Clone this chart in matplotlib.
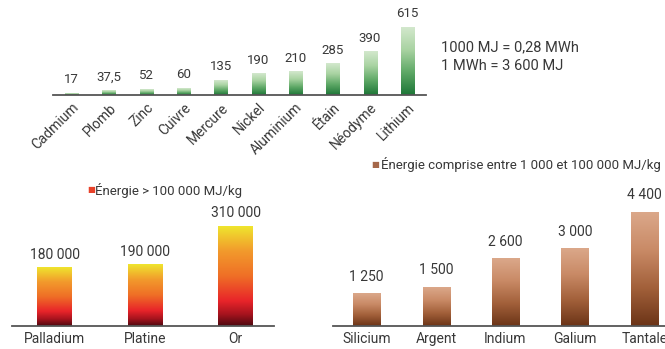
import numpy as np
import matplotlib
matplotlib.use("Agg")
import matplotlib.pyplot as plt
from matplotlib.colors import LinearSegmentedColormap

plt.rcParams['font.family'] = ['Roboto', 'DejaVu Sans']

# énergie nécessaire par kg de métal (MJ/kg)
metaux_bas = ["Cadmium", "Plomb", "Zinc", "Cuivre", "Mercure", "Nickel",
              "Aluminium", "Étain", "Néodyme", "Lithium"]
energie_bas = [17, 37.5, 52, 60, 135, 190, 210, 285, 390, 615]
etiq_bas = ["17", "37,5", "52", "60", "135", "190", "210", "285", "390", "615"]

metaux_haut = ["Palladium", "Platine", "Or"]
energie_haut = [180000, 190000, 310000]
etiq_haut = ["180 000", "190 000", "310 000"]

metaux_moy = ["Silicium", "Argent", "Indium", "Galium", "Tantale"]
energie_moy = [1250, 1500, 2600, 3000, 4400]
etiq_moy = ["1 250", "1 500", "2 600", "3 000", "4 400"]

vert = LinearSegmentedColormap.from_list("vert", ["#1d7637", "#5ea866", "#a9d3a2", "#d3e8cd"])
feu = LinearSegmentedColormap.from_list(
    "feu", [(0, "#4e0810"), (0.12, "#a8141e"), (0.25, "#e8242a"), (0.5, "#ef6f26"),
            (0.75, "#f29a2c"), (1, "#efe52e")])
brun = LinearSegmentedColormap.from_list("brun", ["#6b3417", "#a2603a", "#c98a66", "#dba88a"])

TXT = "#383838"
W, H = 665, 349
fig = plt.figure(figsize=(W / 100, H / 100), dpi=100)


def axes_px(x0, y_base, w, h):
    return fig.add_axes([x0 / W, (H - y_base) / H, w / W, h / H])


def barres(ax, valeurs, etiquettes, noms, cmap, largeur, ymax, xlim, fs_val, fs_nom,
           decal, rot=0):
    grad = np.linspace(0, 1, 256).reshape(-1, 1)
    for i, v in enumerate(valeurs):
        ax.imshow(grad, cmap=cmap, origin="lower", aspect="auto",
                  extent=(i - largeur / 2, i + largeur / 2, 0, v), zorder=2)
        ax.annotate(etiquettes[i], (i, v), xytext=(0, decal), textcoords="offset points",
                    ha="center", va="bottom", fontsize=fs_val, color=TXT)
    ax.set_xlim(*xlim)
    ax.set_ylim(0, ymax)
    ax.set_xticks(range(len(noms)))
    if rot:
        ax.set_xticklabels(noms, rotation=rot, ha="right", rotation_mode="anchor",
                           fontsize=fs_nom, color=TXT)
    else:
        ax.set_xticklabels(noms, fontsize=fs_nom, color=TXT)
    ax.tick_params(length=0, pad=4)
    ax.set_yticks([])
    for s in ["top", "left", "right"]:
        ax.spines[s].set_visible(False)
    ax.spines["bottom"].set_color("#555555")
    ax.spines["bottom"].set_linewidth(1.3)
    ax.patch.set_alpha(0)


# métaux courants
ax1 = axes_px(53, 95, 373, 90)
barres(ax1, energie_bas, etiq_bas, metaux_bas, vert, 0.35, 615 * 90 / 68,
       (-0.5, 9.5), 9.5, 10, 5, rot=45)

# métaux précieux
ax2 = axes_px(12, 326, 262, 126)
barres(ax2, energie_haut, etiq_haut, metaux_haut, feu, 0.38, 310000 * 126 / 100,
       (-0.47, 2.425), 10, 10, 4)

# métaux intermédiaires
ax3 = axes_px(333, 326, 346, 146)
barres(ax3, energie_moy, etiq_moy, metaux_moy, brun, 0.39, 4400 * 146 / 114,
       (-0.485, 4.5), 10, 10, 7)

fig.text(441 / W, 1 - 47 / H, "1000 MJ = 0,28 MWh", fontsize=10.5, color=TXT, va="center")
fig.text(441 / W, 1 - 66 / H, "1 MWh = 3 600 MJ", fontsize=10.5, color=TXT, va="center")

fig.text(87 / W, 1 - 190 / H, "■", fontsize=6, color="#e8422a", va="center")
fig.text(95 / W, 1 - 190 / H, "Énergie > 100 000 MJ/kg", fontsize=9.5, color=TXT, va="center")
fig.text(371 / W, 1 - 165 / H, "■", fontsize=6, color="#a5684a", va="center")
fig.text(381 / W, 1 - 165 / H, "Énergie comprise entre 1 000 et 100 000 MJ/kg",
         fontsize=9.5, color=TXT, va="center")

fig.savefig("out.png", dpi=100, facecolor="white")
